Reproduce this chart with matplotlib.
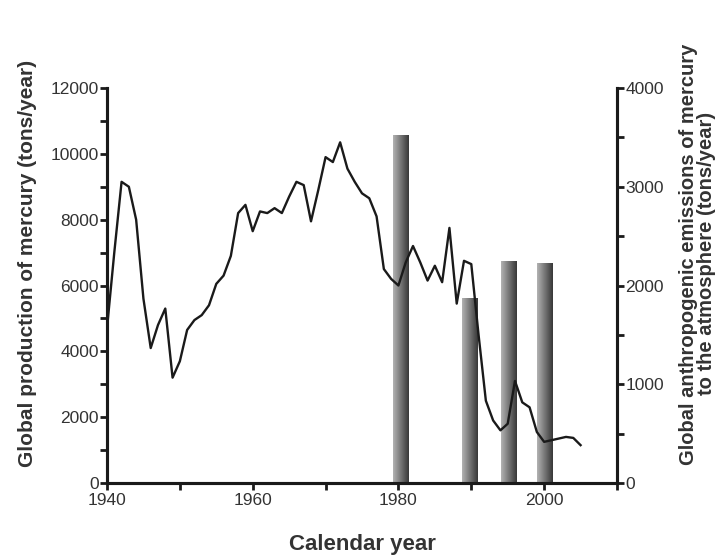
import numpy as np
import matplotlib
matplotlib.use("Agg")
import matplotlib.pyplot as plt

plt.rcParams['font.family'] = ['Liberation Sans', 'DejaVu Sans']

# global mercury production (tons/year)
years = list(range(1940, 2006))
production = [4700, 7000, 9150, 9000, 8000, 5600, 4100, 4800, 5300, 3200,
              3700, 4650, 4950, 5100, 5400, 6050, 6300, 6900, 8200, 8450,
              7650, 8250, 8200, 8350, 8200, 8700, 9150, 9050, 7950, 8900,
              9900, 9750, 10350, 9550, 9150, 8800, 8650, 8100, 6500, 6200,
              6000, 6700, 7200, 6700, 6150, 6600, 6100, 7750, 5450, 6750,
              6650, 4500, 2500, 1900, 1600, 1800, 3100, 2450, 2300, 1550,
              1250, 1300, 1350, 1400, 1370, 1150]

# anthropogenic emissions to the atmosphere (tons/year), bars
bar_years = [1980.25, 1989.8, 1995.1, 2000.05]
emissions = [3520, 1870, 2240, 2220]
bar_width = 2.1

txt = '#333333'

fig = plt.figure(figsize=(7.28, 5.55), dpi=100)
ax = fig.add_axes([107/728, 1 - 483/555, (617 - 107)/728, (483 - 88)/555])
ax2 = ax.twinx()

# gradient bars: light on the left, dark on the right
grad = np.linspace(0.70, 0.22, 64).reshape(1, -1)
for x, h in zip(bar_years, emissions):
    ax2.imshow(grad, cmap='gray', vmin=0, vmax=1, aspect='auto',
               extent=(x - bar_width / 2, x + bar_width / 2, 0, h),
               interpolation='bilinear', zorder=1)

ax.plot(years, production, color='#1a1a1a', lw=1.7, zorder=3)

ax.set_zorder(ax2.get_zorder() + 1)
ax.patch.set_visible(False)

ax.set_xlim(1940, 2010)
ax.set_ylim(0, 12000)
ax2.set_ylim(0, 4000)
ax2.set_xlim(1940, 2010)

ax.set_xticks([1940, 1960, 1980, 2000])
ax.set_xticks(range(1950, 2011, 20), minor=True)
ax.set_yticks(range(0, 12001, 2000))
ax.set_yticks(range(1000, 12000, 2000), minor=True)
ax2.set_yticks(range(0, 4001, 1000))
ax2.set_yticks(range(500, 4000, 1000), minor=True)

for a in (ax, ax2):
    a.spines['top'].set_visible(False)
    for s in a.spines.values():
        s.set_linewidth(2.2)
        s.set_color('#1a1a1a')
    a.tick_params(which='both', width=2, length=5, color='#1a1a1a',
                  labelsize=12.5, labelcolor=txt, pad=1)
ax.tick_params(axis='x', pad=2)

ax.set_xlabel('Calendar year', fontsize=16, fontweight='bold', color=txt, labelpad=19)
ax.set_ylabel('Global production of mercury (tons/year)', fontsize=15,
              fontweight='bold', color=txt)
ax2.set_ylabel('Global anthropogenic emissions of mercury\nto the atmosphere (tons/year)',
               fontsize=14.5, fontweight='bold', color=txt,
               rotation=90, linespacing=0.95)
ax.yaxis.set_label_coords(-0.137, 0.557)
ax2.yaxis.set_label_coords(1.122, 0.58)

fig.savefig('out.png', dpi=100)
